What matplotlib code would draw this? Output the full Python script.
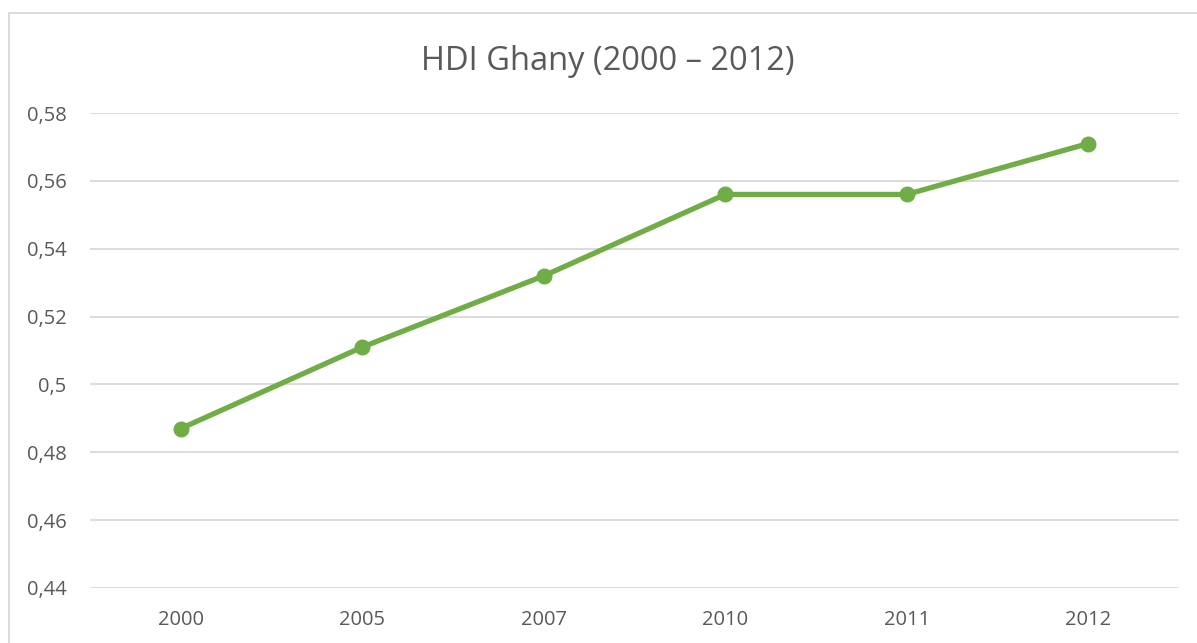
import matplotlib.pyplot as plt
from matplotlib.patches import Rectangle
from matplotlib.ticker import FuncFormatter

# data
years = ["2000", "2005", "2007", "2010", "2011", "2012"]
hdi = [0.487, 0.511, 0.532, 0.556, 0.556, 0.571]
y_ticks = [0.44, 0.46, 0.48, 0.50, 0.52, 0.54, 0.56, 0.58]

W, H = 1197, 643
plt.rcParams['font.family'] = ['Open Sans', 'DejaVu Sans']
text_col = '#595959'
grid_col = '#D9D9D9'
green = '#70AD47'

fig = plt.figure(figsize=(W / 100, H / 100), dpi=100)
ax = fig.add_axes([90 / W, 1 - 588 / H, (1179 - 90) / W, (588 - 113) / H])

x = list(range(len(years)))
ax.plot(x, hdi, color=green, linewidth=3.8, marker='o', markersize=10.5,
        solid_capstyle='round', zorder=3)

ax.set_xlim(-0.5, len(years) - 0.5)
ax.set_ylim(0.44, 0.58)
ax.set_yticks(y_ticks)
ax.set_xticks(x)
ax.set_xticklabels(years)


def fmt(v, pos):
    s = f"{v:.2f}".rstrip('0')
    return s.replace('.', ',')


ax.yaxis.set_major_formatter(FuncFormatter(fmt))
ax.grid(axis='y', color=grid_col, linewidth=1.3)
ax.set_axisbelow(True)
for sp in ax.spines.values():
    sp.set_visible(False)
ax.tick_params(length=0, labelsize=14.5, colors=text_col)
ax.tick_params(axis='y', pad=17)
ax.tick_params(axis='x', pad=16)

fig.text(608 / W, 1 - 61 / H, "HDI Ghany (2000 \u2013 2012)", ha='center', va='center',
         fontsize=23.5, color=text_col)

# chart frame (cut off at right and bottom)
fig.patches.append(Rectangle((8.5 / W, -0.1), 1.2, 1.1 - 13.5 / H,
                             transform=fig.transFigure, fill=False,
                             edgecolor=grid_col, linewidth=1.3))

fig.savefig('out.png', dpi=100)
